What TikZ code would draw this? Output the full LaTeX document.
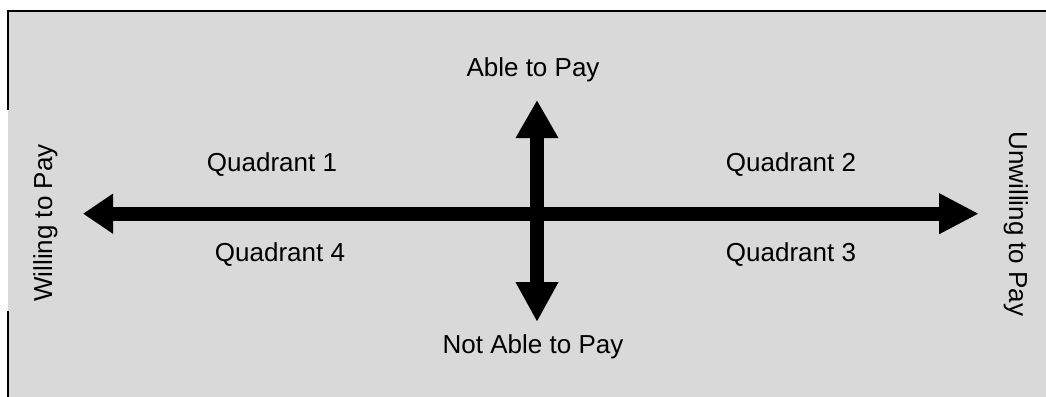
\documentclass[tikz,border=0pt]{standalone}
\usepackage{fontspec}
\setmainfont{Liberation Sans}
\usetikzlibrary{arrows.meta}
\definecolor{bggray}{HTML}{D9D9D9}
\begin{document}
\begin{tikzpicture}[x=1pt,y=-1pt,
  lbl/.style={inner sep=0pt,font=\fontsize{26}{31}\selectfont,text=black,anchor=base},
  bigarrow/.style={line width=14pt,draw=black},
  frameline/.style={line width=2.3pt,draw=black}]
\useasboundingbox (0,0) rectangle (1046,396);
\fill[white] (0,0) rectangle (1046,396);
\fill[bggray] (8,11) rectangle (1050,400);
\draw[frameline] (8,110) -- (8,11) -- (1050,11);
\draw[frameline] (8,311) -- (8,400);
% labels
\node[lbl] (able) at (533,77) {Able to Pay};
\node[lbl] (notable) at (533,353) {Not Able to Pay};
\node[lbl] (q1) at (272,171) {Quadrant 1};
\node[lbl] (q2) at (791,171) {Quadrant 2};
\node[lbl] (q3) at (791,261) {Quadrant 3};
\node[lbl] (q4) at (280,261) {Quadrant 4};
\node[lbl,rotate=90] (willing) at (52,223) {Willing to Pay};
\node[lbl,rotate=-90] (unwilling) at (1009,224) {Unwilling to Pay};
% arrow ends
\coordinate (hl) at (83,213.7);
\coordinate (hr) at (979,213.7);
\coordinate (vt) at (537,100);
\coordinate (vb) at (537,322);
\draw[bigarrow,{Triangle[length=30pt,width=38pt]}-{Triangle[length=40pt,width=38pt]}] (hl) -- (hr);
\draw[bigarrow,{Triangle[length=38pt,width=40pt]}-{Triangle[length=40pt,width=40pt]}] (vt) -- (vb);
\end{tikzpicture}
\end{document}
